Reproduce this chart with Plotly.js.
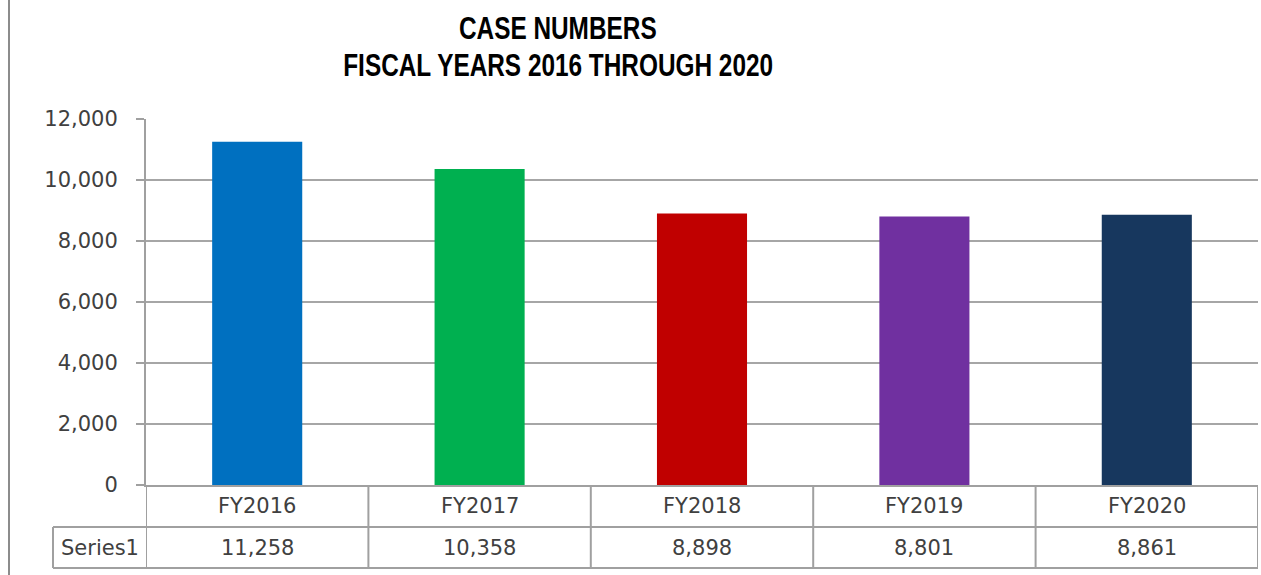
<!DOCTYPE html>
<html>
<head>
<meta charset="utf-8">
<script src="https://cdn.plot.ly/plotly-3.0.1.min.js"></script>
<style>html,body{margin:0;padding:0;background:#fff;}#chart{width:1261px;height:575px;}</style>
</head>
<body>
<div id="chart"></div>
<script>
const categories = ["FY2016", "FY2017", "FY2018", "FY2019", "FY2020"];
const values = [11258, 10358, 8898, 8801, 8861];
const barColors = ["#0070C0", "#00B050", "#C00000", "#7030A0", "#17375E"];
const seriesName = "Series1";
const yTicks = [0, 2000, 4000, 6000, 8000, 10000, 12000];
const titleLines = ["CASE NUMBERS", "FISCAL YEARS 2016 THROUGH 2020"];

const W = 1261, H = 575;
const plotL = 146, plotR = 1258, plotT = 119, plotB = 485;
const pw = plotR - plotL, ph = plotB - plotT;
const px2x = p => (p - plotL) / pw;
const py2y = p => (plotB - p) / ph;

const gridCol = "#A6A6A6";
const lineCol = "#A0A0A0";
const txtCol = "#404040";
const tickFont = {family: "DejaVu Sans, Noto Sans, sans-serif", size: 21, color: txtCol};
const titleFont = {family: "Liberation Sans, Arial, sans-serif", size: 32, color: "#000", weight: 700};

const row1B = 527, row2B = 568, seriesL = 53;
const titleCX = 558;

const shapes = [];
shapes.push({type: "line", xref: "paper", yref: "paper", x0: px2x(seriesL), x1: 1, y0: py2y(row1B), y1: py2y(row1B), line: {color: lineCol, width: 2}});
shapes.push({type: "line", xref: "paper", yref: "paper", x0: px2x(seriesL), x1: 1, y0: py2y(row2B), y1: py2y(row2B), line: {color: lineCol, width: 2}});
shapes.push({type: "line", xref: "paper", yref: "paper", x0: px2x(seriesL), x1: px2x(seriesL), y0: py2y(row1B), y1: py2y(row2B), line: {color: lineCol, width: 2}});
for (let i = 0; i <= categories.length; i++) {
  shapes.push({type: "line", xref: "x", yref: "paper", x0: i - 0.5, x1: i - 0.5, y0: 0, y1: py2y(row2B), line: {color: lineCol, width: 2}});
}
shapes.push({type: "line", xref: "paper", yref: "paper", x0: px2x(9), x1: px2x(9), y0: py2y(0), y1: py2y(H), line: {color: "#8C8C8C", width: 2}});

const annotations = [];
categories.forEach((c, i) => {
  annotations.push({x: c, xref: "x", y: py2y((plotB + row1B) / 2), yref: "paper", text: c, showarrow: false, font: tickFont, xanchor: "center", yanchor: "middle"});
  annotations.push({x: c, xref: "x", y: py2y((row1B + row2B) / 2), yref: "paper", text: values[i].toLocaleString("en-US"), showarrow: false, font: tickFont, xanchor: "center", yanchor: "middle"});
});
annotations.push({x: px2x((seriesL + plotL) / 2), xref: "paper", y: py2y((row1B + row2B) / 2), yref: "paper", text: seriesName, showarrow: false, font: tickFont, xanchor: "center", yanchor: "middle"});
const titleYs = [28.5, 65];
titleLines.forEach((t, i) => {
  annotations.push({x: px2x(titleCX), xref: "paper", y: py2y(titleYs[i]), yref: "paper", text: "<b>" + t + "</b>", showarrow: false, font: titleFont, xanchor: "center", yanchor: "middle"});
});

const trace = {
  type: "bar",
  x: categories,
  y: values,
  width: 0.405,
  marker: {color: barColors, line: {width: 0}},
  hoverinfo: "x+y"
};

const layout = {
  width: W, height: H,
  margin: {l: plotL, r: W - plotR, t: plotT, b: H - plotB, pad: 0},
  paper_bgcolor: "#fff", plot_bgcolor: "#fff",
  showlegend: false,
  xaxis: {
    type: "category", range: [-0.5, 4.5],
    showticklabels: false, ticks: "",
    showgrid: false, zeroline: false,
    showline: true, linecolor: lineCol, linewidth: 2
  },
  yaxis: {
    range: [0, 12000], tickvals: yTicks, tickformat: ",",
    ticks: "outside", ticklen: 8, tickwidth: 2, tickcolor: lineCol,
    showgrid: true, gridcolor: gridCol, gridwidth: 2,
    zeroline: false, showline: true, linecolor: lineCol, linewidth: 2,
    tickfont: tickFont, ticklabelstandoff: 14
  },
  shapes: shapes,
  annotations: annotations
};

// Narrow the title glyphs horizontally (the reference uses a condensed bold face).
const targetLine2Width = 430;
function condenseTitle() {
  const texts = Array.from(document.querySelectorAll(".annotation-text"));
  const t1 = texts.find(t => t.textContent === titleLines[0]);
  const t2 = texts.find(t => t.textContent === titleLines[1]);
  if (!t1 || !t2) return;
  const w2 = t2.getBBox().width;
  const s = targetLine2Width / w2;
  [t1, t2].forEach(t => {
    const bb = t.getBBox();
    const cx = bb.x + bb.width / 2;
    t.setAttribute("transform", `translate(${cx},0) scale(${s},1) translate(${-cx},0)`);
  });
}

Plotly.newPlot("chart", [trace], layout, {displayModeBar: false}).then(condenseTitle);
</script>
</body>
</html>
